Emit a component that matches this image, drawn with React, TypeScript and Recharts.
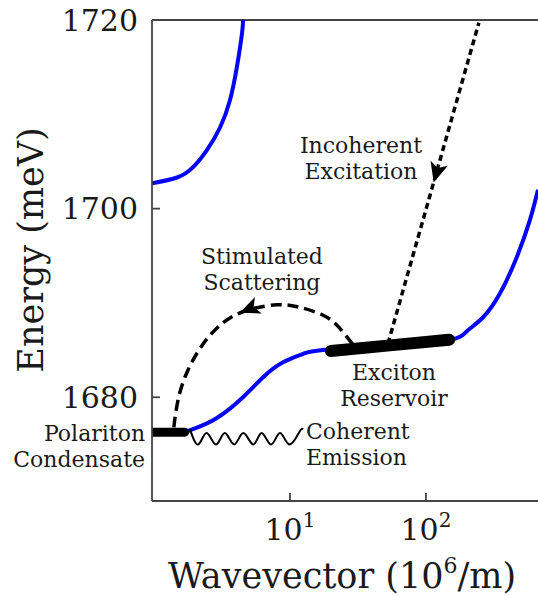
import { LineChart, Line, XAxis, YAxis, ReferenceLine, ReferenceDot, Label } from "recharts";

type Pt = { k: number; e: number };

// wavevector k (10^6/m), energy e (meV)
const upperBranch: Pt[] = [
  { k: 0.967, e: 1702.7 }, { k: 1.48, e: 1703.3 }, { k: 1.94, e: 1704.4 }, { k: 2.45, e: 1706.2 },
  { k: 3.06, e: 1708.6 }, { k: 3.62, e: 1711.5 }, { k: 4.07, e: 1715.0 }, { k: 4.44, e: 1718.6 },
  { k: 4.52, e: 1720 },
];

const lowerBranch: Pt[] = [
  { k: 1.68, e: 1676.3 }, { k: 2.0, e: 1676.7 }, { k: 2.9, e: 1677.8 }, { k: 4.51, e: 1680.0 },
  { k: 6.32, e: 1682.1 }, { k: 8.89, e: 1683.7 }, { k: 12.5, e: 1684.6 }, { k: 17.5, e: 1685.0 },
  { k: 54.3, e: 1685.5 }, { k: 150, e: 1686.1 }, { k: 200, e: 1687.0 }, { k: 260, e: 1688.4 },
  { k: 350, e: 1691.0 }, { k: 467, e: 1694.9 }, { k: 582, e: 1698.8 }, { k: 667, e: 1702.0 },
];

const condensate: Pt[] = [{ k: 0.967, e: 1676.3 }, { k: 1.68, e: 1676.3 }];
const reservoir: Pt[] = [{ k: 20, e: 1684.9 }, { k: 54.3, e: 1685.5 }, { k: 148, e: 1686.1 }];

const excitation: Pt[] = [{ k: 52.6, e: 1685.7 }, { k: 245, e: 1719.7 }];

const scattering: Pt[] = [
  { k: 1.40, e: 1676.8 }, { k: 1.44, e: 1678.2 }, { k: 1.55, e: 1680.5 }, { k: 1.78, e: 1682.9 },
  { k: 2.14, e: 1685.0 }, { k: 2.67, e: 1686.8 }, { k: 3.62, e: 1688.4 }, { k: 5.35, e: 1689.4 },
  { k: 8.02, e: 1689.8 }, { k: 11.3, e: 1689.6 }, { k: 17.5, e: 1688.7 }, { k: 23.3, e: 1687.3 },
  { k: 30.1, e: 1685.3 },
];

const emission: Pt[] = [
  { k: 1.84, e: 1676.6 }, { k: 2.12, e: 1675.0 }, { k: 2.44, e: 1676.2 }, { k: 2.86, e: 1675.0 },
  { k: 3.32, e: 1676.2 }, { k: 3.89, e: 1675.0 }, { k: 4.54, e: 1676.2 }, { k: 5.37, e: 1675.0 },
  { k: 6.19, e: 1676.2 }, { k: 7.25, e: 1675.0 }, { k: 8.44, e: 1676.2 }, { k: 9.88, e: 1675.0 },
  { k: 11.7, e: 1676.3 }, { k: 12.5, e: 1676.6 },
];

const xTicks = [10, 100];
const yTicks = [1680, 1700, 1720];

const notes = [
  { k: 33.3, e: 1706.7, lines: ["Incoherent", "Excitation"], anchor: "middle" },
  { k: 6.22, e: 1695.0, lines: ["Stimulated", "Scattering"], anchor: "middle" },
  { k: 58.2, e: 1682.65, lines: ["Exciton", "Reservoir"], anchor: "middle" },
  { k: 13.1, e: 1676.4, lines: ["Coherent", "Emission"], anchor: "start" },
  { k: 0.86, e: 1676.2, lines: ["Polariton", "Condensate"], anchor: "end" },
];

const arrows = [
  { k: 120, e: 1703.9, angle: 106 },
  { k: 5.08, e: 1689.4, angle: 158 },
];

const FONT = "'DejaVu Serif', serif";
const AXIS = "#444";
const INK = "#1a1a1a";
const BLUE = "#0505f5";

function YTick({ x, y, payload }: any) {
  return (
    <g>
      <line x1={x} x2={x + 8} y1={y} y2={y} stroke={AXIS} strokeWidth={1.8} />
      <text x={x - 14} y={y} textAnchor="end" dominantBaseline="central" fontSize={30} fontFamily={FONT} fill={INK}>
        {payload.value}
      </text>
    </g>
  );
}

function XTick({ x, y, payload }: any) {
  const exp = Math.round(Math.log10(payload.value));
  return (
    <g>
      <line x1={x} x2={x} y1={y} y2={y - 8} stroke={AXIS} strokeWidth={1.8} />
      <text x={x} y={y + 39} textAnchor="middle" fontSize={30} fontFamily={FONT} fill={INK}>
        10<tspan dy={-13} fontSize={20}>{exp}</tspan>
      </text>
    </g>
  );
}

function Note({ cx, cy, lines, anchor }: any) {
  return (
    <text x={cx} y={cy} textAnchor={anchor} fontSize={22} fontFamily={FONT} fill={INK}>
      {lines.map((s: string, i: number) => (
        <tspan key={s} x={cx} dy={i === 0 ? 8 : 26}>{s}</tspan>
      ))}
    </text>
  );
}

function Arrow({ cx, cy, angle }: any) {
  return (
    <polygon
      points="11,0 -9,-9 -4,0 -9,9"
      transform={`translate(${cx},${cy}) rotate(${angle})`}
      fill="#000"
    />
  );
}

export default function App() {
  return (
    <div style={{ position: "absolute", left: 0, top: 0, background: "#fff" }}>
      <LineChart width={538} height={596} margin={{ top: 20, right: 0, bottom: 0, left: 0 }}>
        <XAxis
          dataKey="k"
          type="number"
          scale="log"
          domain={[0.967, 667]}
          allowDataOverflow
          ticks={xTicks}
          tick={<XTick />}
          tickSize={0}
          tickMargin={0}
          tickLine={false}
          height={95}
          axisLine={{ stroke: AXIS, strokeWidth: 1.8 }}
        >
          <Label
            content={({ viewBox }: any) => (
              <text x={viewBox.x + viewBox.width / 2 - 3} y={viewBox.y + 87} textAnchor="middle" fontSize={35} fontFamily={FONT} fill={INK}>
                Wavevector (10<tspan dy={-15} fontSize={22}>6</tspan><tspan dy={15}>/m)</tspan>
              </text>
            )}
          />
        </XAxis>
        <YAxis
          dataKey="e"
          type="number"
          domain={[1669, 1720]}
          allowDataOverflow
          ticks={yTicks}
          tick={<YTick />}
          tickSize={0}
          tickMargin={0}
          tickLine={false}
          width={152}
          axisLine={{ stroke: AXIS, strokeWidth: 1.8 }}
        >
          <Label
            content={({ viewBox }: any) => (
              <text transform={`translate(43,${viewBox.y + 230}) rotate(-90)`} textAnchor="middle" fontSize={35} fontFamily={FONT} fill={INK}>
                Energy (meV)
              </text>
            )}
          />
        </YAxis>
        <ReferenceLine y={1720} stroke={AXIS} strokeWidth={1.8} />

        <Line data={upperBranch} dataKey="e" type="natural" stroke={BLUE} strokeWidth={4} dot={false} activeDot={false} isAnimationActive={false} />
        <Line data={lowerBranch} dataKey="e" type="natural" stroke={BLUE} strokeWidth={4} dot={false} activeDot={false} isAnimationActive={false} />
        <Line data={excitation} dataKey="e" type="linear" stroke="#000" strokeWidth={3.5} strokeDasharray="6 4" dot={false} activeDot={false} isAnimationActive={false} />
        <Line data={scattering} dataKey="e" type="natural" stroke="#000" strokeWidth={3.5} strokeDasharray="11 6" dot={false} activeDot={false} isAnimationActive={false} />
        <Line data={emission} dataKey="e" type="natural" stroke="#000" strokeWidth={2} dot={false} activeDot={false} isAnimationActive={false} />
        <Line data={condensate} dataKey="e" type="linear" stroke="#000" strokeWidth={9} strokeLinecap="round" dot={false} activeDot={false} isAnimationActive={false} />
        <Line data={reservoir} dataKey="e" type="natural" stroke="#000" strokeWidth={12} strokeLinecap="round" dot={false} activeDot={false} isAnimationActive={false} />

        {arrows.map((a) => (
          <ReferenceDot key={a.k} x={a.k} y={a.e} r={0} shape={(p: any) => <Arrow cx={p.cx} cy={p.cy} angle={a.angle} />} />
        ))}
        {notes.map((n) => (
          <ReferenceDot key={n.lines[0]} x={n.k} y={n.e} r={0} ifOverflow="visible" shape={(p: any) => <Note cx={p.cx} cy={p.cy} lines={n.lines} anchor={n.anchor} />} />
        ))}
      </LineChart>
    </div>
  );
}
